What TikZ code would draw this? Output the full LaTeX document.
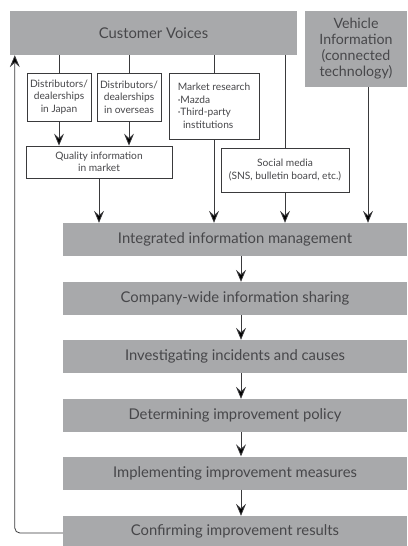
\documentclass[tikz,border=0pt]{standalone}
\usepackage{fontspec}
\setmainfont{Lato}
\usetikzlibrary{arrows.meta,positioning,calc}
\definecolor{ink}{HTML}{47474A}
\definecolor{shade}{HTML}{A8A9AB}
\definecolor{wire}{HTML}{3A3A3C}
\tikzset{every node/.style={text=ink,align=center,inner sep=1pt},
grey/.style={fill=shade,font=\fontsize{14.8}{16.5}\selectfont},
small/.style={draw=wire,line width=.8pt,fill=white,font=\fontsize{10.2}{12.5}\selectfont},
arr/.style={-{Stealth[length=12pt,width=10pt,inset=4.5pt,fill=black]},draw=wire,line width=.8pt},
ln/.style={draw=wire,line width=.8pt}}

\begin{document}
\begin{tikzpicture}[x=1pt,y=1pt]
\useasboundingbox (0,0) rectangle (407,-546);
\node[grey,minimum width=287pt,minimum height=44pt] (cv) at (153.5,-33) {Customer Voices};
\node[grey,minimum width=102pt,minimum height=76pt,font=\fontsize{14.2}{16}\selectfont] (veh) at (356,-49)
{Vehicle\\Information\\(connected\\technology)};
\node[small,minimum width=64pt,minimum height=48pt] (dj) at (59,-97) {Distributors/\\dealerships\\in Japan};
\node[small,minimum width=64pt,minimum height=48pt] (do) at (129,-97) {Distributors/\\dealerships\\in overseas};
\node[small,minimum width=90pt,minimum height=66pt,align=left,inner sep=3pt] (mr) at (214,-106)
{Market research\\\textperiodcentered Mazda\\\textperiodcentered Third-party\\\ \ institutions};
\node[small,minimum width=146pt,minimum height=32pt] (qi) at (99,-162) {Quality information\\in market};
\node[small,minimum width=128pt,minimum height=44pt] (sm) at (285,-170) {Social media\\(SNS, bulletin board, etc.)};
\draw[ln] (cv.south -| dj.north)--(dj.north);
\draw[ln] (cv.south -| do.north)--(do.north);
\draw[ln] (cv.south -| mr.north)--(mr.north);
\draw[ln] (cv.south -| sm.north)--(sm.north);
\draw[arr] (dj.south)--(dj.south|-qi.north);
\draw[arr] (do.south)--(do.south|-qi.north);
% main flow
\node[grey,minimum width=344pt,minimum height=33pt] (int) at (235,-239.5) {Integrated information management};
\node[grey,minimum width=344pt,minimum height=33pt] (share) at (235,-298.5) {Company-wide information sharing};
\node[grey,minimum width=344pt,minimum height=33pt] (inv) at (235,-356.5) {Investigating incidents and causes};
\node[grey,minimum width=344pt,minimum height=33pt] (pol) at (235,-415.5) {Determining improvement policy};
\node[grey,minimum width=344pt,minimum height=33pt] (impl) at (235,-473) {Implementing improvement measures};
\node[grey,minimum width=344pt,minimum height=30pt] (conf) at (235,-531) {Confirming improvement results};
\draw[arr] (qi.south)--(qi.south|-int.north);
\draw[arr] (mr.south)--(mr.south|-int.north);
\draw[arr] (sm.south)--(sm.south|-int.north);
\draw[arr] (veh.south -| 368,0)--(368,0 |- int.north);
\draw[arr] ([xshift=6pt]int.south)--([xshift=6pt]share.north);
\draw[arr] ([xshift=6pt]share.south)--([xshift=6pt]inv.north);
\draw[arr] ([xshift=6pt]inv.south)--([xshift=6pt]pol.north);
\draw[arr] ([xshift=6pt]pol.south)--([xshift=6pt]impl.north);
\draw[arr] ([xshift=6pt]impl.south)--([xshift=6pt]conf.north);
% feedback loop
\draw[arr,rounded corners=5pt] ([yshift=-2pt]conf.west) -| ([xshift=5pt]cv.south west);
\end{tikzpicture}
\end{document}
